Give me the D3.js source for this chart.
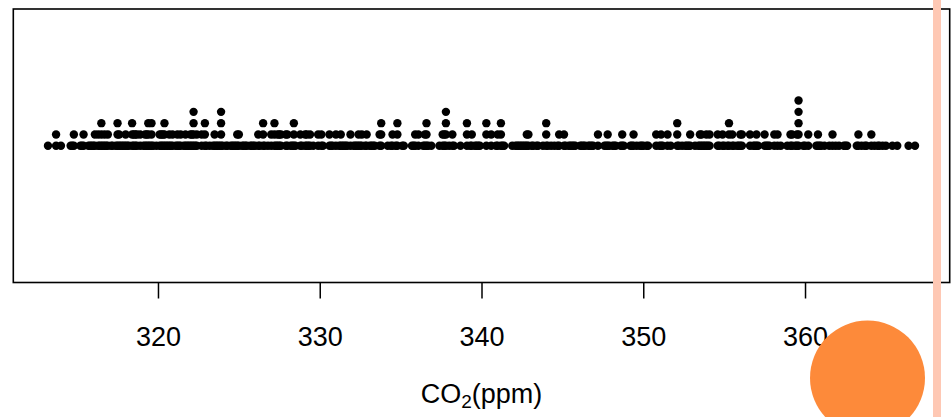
<!DOCTYPE html>
<html>
<head>
<meta charset="utf-8">
<script src="https://cdn.jsdelivr.net/npm/d3@7"></script>
<style>
  html, body { margin: 0; padding: 0; background: #ffffff; }
  svg { display: block; }
</style>
</head>
<body>
<svg id="chart" width="952" height="417"></svg>
<script>
// Monthly Mauna Loa CO2 (ppm), 1959-1997
const co2_1959_1968 = [
  315.42, 316.31, 316.50, 317.56, 318.13, 318.00, 316.39, 314.65, 313.68, 313.18, 314.66, 315.43,
  316.27, 316.81, 317.42, 318.87, 319.87, 319.43, 318.01, 315.74, 314.00, 313.68, 314.84, 316.03,
  316.73, 317.54, 318.38, 319.31, 320.42, 319.61, 318.42, 316.63, 314.83, 315.16, 315.94, 316.85,
  317.78, 318.40, 319.53, 320.42, 320.85, 320.45, 319.45, 317.25, 316.11, 315.27, 316.53, 317.53,
  318.58, 318.92, 319.70, 321.22, 322.08, 321.31, 319.58, 317.61, 316.05, 315.83, 316.91, 318.20,
  319.41, 320.07, 320.74, 321.40, 322.06, 321.73, 320.27, 318.54, 316.54, 316.71, 317.53, 318.55,
  319.27, 320.28, 320.73, 321.97, 322.00, 321.71, 321.05, 318.71, 317.66, 317.14, 318.70, 319.25,
  320.46, 321.43, 322.23, 323.54, 323.91, 323.59, 322.24, 320.20, 318.48, 317.94, 319.63, 320.87,
  322.17, 322.34, 322.88, 324.25, 324.83, 323.93, 322.38, 320.76, 319.10, 319.24, 320.56, 321.80,
  322.40, 322.99, 323.73, 324.86, 325.40, 325.20, 323.98, 321.95, 320.18, 320.09, 321.16, 322.74
];
const co2_1969_1978 = [
  323.83, 324.26, 325.47, 326.50, 327.21, 326.54, 325.72, 323.50, 322.22, 321.62, 322.69, 323.95,
  324.89, 325.82, 326.77, 327.97, 327.91, 327.50, 326.18, 324.53, 322.93, 322.90, 323.85, 324.96,
  326.01, 326.51, 327.01, 327.62, 328.76, 328.40, 327.20, 325.27, 323.20, 323.40, 324.63, 325.85,
  326.60, 327.47, 327.58, 329.56, 329.90, 328.92, 327.88, 326.16, 324.68, 325.04, 326.34, 327.39,
  328.37, 329.40, 330.14, 331.33, 332.31, 331.90, 330.70, 329.15, 327.35, 327.02, 327.99, 328.48,
  329.18, 330.55, 331.32, 332.48, 332.92, 332.08, 331.01, 329.23, 327.27, 327.21, 328.29, 329.41,
  330.23, 331.25, 331.87, 333.14, 333.80, 333.43, 331.73, 329.90, 328.40, 328.17, 329.32, 330.59,
  331.58, 332.39, 333.33, 334.41, 334.71, 334.17, 332.89, 330.77, 329.14, 328.78, 330.14, 331.52,
  332.75, 333.24, 334.53, 335.90, 336.57, 336.10, 334.76, 332.59, 331.42, 330.98, 332.24, 333.68,
  334.80, 335.22, 336.47, 337.59, 337.84, 337.72, 336.37, 334.51, 332.60, 332.38, 333.75, 334.78
];
const co2_1979_1988 = [
  336.05, 336.59, 337.79, 338.71, 339.30, 339.12, 337.56, 335.92, 333.75, 333.70, 335.12, 336.56,
  337.84, 338.19, 339.91, 340.60, 341.29, 341.00, 339.39, 337.43, 335.72, 335.84, 336.93, 338.04,
  339.06, 340.30, 341.21, 342.33, 342.74, 342.08, 340.32, 338.26, 336.52, 336.68, 338.19, 339.44,
  340.57, 341.44, 342.53, 343.39, 343.96, 343.18, 341.88, 339.65, 337.81, 337.69, 339.09, 340.32,
  341.20, 342.35, 342.93, 344.77, 345.58, 345.14, 343.81, 342.21, 339.69, 339.82, 340.98, 342.82,
  343.52, 344.33, 345.11, 346.88, 347.25, 346.62, 345.22, 343.11, 340.90, 341.18, 342.80, 344.04,
  344.79, 345.82, 347.25, 348.17, 348.74, 348.07, 346.38, 344.51, 342.92, 342.62, 344.06, 345.38,
  346.11, 346.78, 347.68, 349.37, 350.03, 349.37, 347.76, 345.73, 344.68, 343.99, 345.48, 346.72,
  347.84, 348.29, 349.23, 350.80, 351.66, 351.07, 349.33, 347.92, 346.27, 346.18, 347.64, 348.78,
  350.25, 351.54, 352.05, 353.41, 354.04, 353.62, 352.22, 350.27, 348.55, 348.72, 349.91, 351.18
];
const co2_1989_1997 = [
  352.60, 352.92, 353.53, 355.26, 355.52, 354.97, 353.75, 351.52, 349.64, 349.83, 351.14, 352.37,
  353.50, 354.55, 355.23, 356.04, 357.00, 356.07, 354.67, 352.76, 350.82, 351.04, 352.69, 354.07,
  354.59, 355.63, 357.03, 358.48, 359.22, 358.12, 356.06, 353.92, 352.05, 352.11, 353.64, 354.89,
  355.88, 356.63, 357.72, 359.07, 359.58, 359.17, 356.94, 354.92, 352.94, 353.23, 354.09, 355.33,
  356.63, 357.10, 358.32, 359.41, 360.23, 359.55, 357.53, 355.48, 353.67, 353.95, 355.30, 356.78,
  358.34, 358.89, 359.95, 361.25, 361.67, 360.94, 359.55, 357.49, 355.84, 356.00, 357.59, 359.05,
  359.98, 361.03, 361.66, 363.48, 363.82, 363.30, 361.94, 359.50, 358.11, 357.80, 359.61, 360.74,
  362.09, 363.29, 364.06, 364.76, 365.45, 365.01, 363.70, 361.54, 359.51, 359.65, 360.80, 362.38,
  363.23, 364.06, 364.61, 366.40, 366.84, 365.68, 364.52, 362.57, 360.24, 360.83, 362.49, 364.34
];
const xTicks = [320, 330, 340, 350, 360];
const xLabelParts = ["CO", "2", "(ppm)"];

// ---------------- drawing ----------------
const W = 952, H = 417;
const FONT = "'Liberation Sans', Arial, Helvetica, sans-serif";
const svg = d3.select("#chart");
svg.append("rect").attr("width", W).attr("height", H).attr("fill", "#ffffff");

// round to 0.1 ppm like R's round(x, 1): exact binary ties go to even
function roundTenth(v) {
  const c = Math.round(v * 100);
  if (c % 10 === 5 && c % 25 === 0) {
    const t = (c - 5) / 10;
    return (t % 2 === 0 ? t : t + 1) / 10;
  }
  return +v.toFixed(1);
}

const allCo2 = [].concat(co2_1959_1968, co2_1969_1978, co2_1979_1988, co2_1989_1997);
const rounded = allCo2.map(roundTenth);
const lo = d3.min(rounded), hi = d3.max(rounded), pad = (hi - lo) * 0.04;

const box = { left: 13.3, right: 949.7, top: 9, bottom: 282.5 };
const x = d3.scaleLinear().domain([lo - pad, hi + pad]).range([box.left, box.right]);
const y = d3.scaleLinear().domain([0.5, 1.5]).range([box.bottom, box.top]);
const stackStep = 0.0413;

// stacking of identical values
const seen = new Map();
const pts = rounded.map(v => {
  const key = v.toFixed(1);
  const lvl = seen.get(key) || 0;
  seen.set(key, lvl + 1);
  return { v, lvl };
});

// points
svg.append("g").selectAll("circle").data(pts).join("circle")
  .attr("cx", d => x(d.v))
  .attr("cy", d => y(1 + d.lvl * stackStep))
  .attr("r", 4.2)
  .attr("fill", "#000");

// box
svg.append("rect")
  .attr("x", box.left).attr("y", box.top)
  .attr("width", box.right - box.left).attr("height", box.bottom - box.top)
  .attr("fill", "none").attr("stroke", "#000").attr("stroke-width", 1.6);

// axis
const gx = svg.append("g")
  .attr("transform", `translate(0,${box.bottom})`)
  .call(d3.axisBottom(x).tickValues(xTicks).tickSize(16).tickFormat(d3.format("d")));
gx.select(".domain").remove();
gx.selectAll(".tick line").attr("stroke", "#000").attr("stroke-width", 1.5);
gx.selectAll(".tick text")
  .attr("y", 63.5).attr("dy", "0")
  .attr("fill", "#000")
  .style("font-family", FONT).style("font-size", "27px");

// x label
const lab = svg.append("text")
  .attr("x", (box.left + box.right) / 2).attr("y", 403)
  .attr("text-anchor", "middle")
  .style("font-family", FONT).style("font-size", "27px").attr("fill", "#000");
lab.append("tspan").text(xLabelParts[0]);
lab.append("tspan").attr("dy", 5).style("font-size", "19px").text(xLabelParts[1]);
lab.append("tspan").attr("dy", -5).text(xLabelParts[2]);

// slide decorations
svg.append("circle").attr("cx", 867.5).attr("cy", 378).attr("r", 57.5).attr("fill", "#FD8A3A");
svg.append("rect").attr("x", 933).attr("y", 0).attr("width", 8).attr("height", H).attr("fill", "#FEC8B4");
</script>
</body>
</html>
